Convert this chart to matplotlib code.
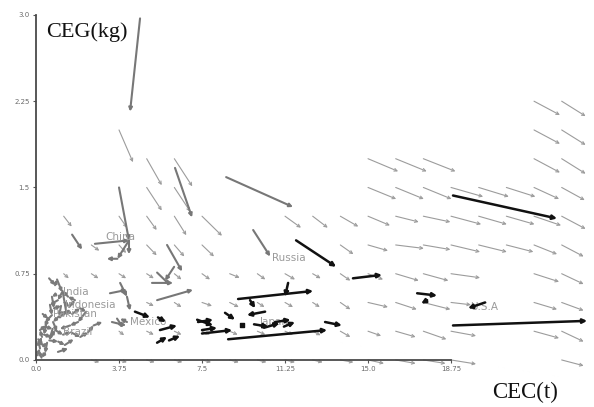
import matplotlib
matplotlib.use("Agg")
import matplotlib.pyplot as plt

# ---- background vector field (grid tails and components) ----
field_x = [22.5, 23.75,
           3.75, 22.5, 23.75,
           5.0, 6.25, 15.0, 16.25, 17.5, 22.5, 23.75,
           5.0, 6.25, 15.0, 16.25, 17.5, 18.75, 20.0, 21.25, 22.5, 23.75,
           1.25, 3.75, 5.0, 6.25, 7.5, 11.25, 12.5, 13.75, 15.0, 16.25, 17.5, 18.75, 20.0, 21.25, 22.5, 23.75,
           2.5, 3.75, 5.0, 6.25, 7.5, 13.75, 15.0, 16.25, 17.5, 18.75, 20.0, 21.25, 22.5, 23.75,
           1.25, 2.5, 3.75, 5.0, 6.25, 7.5, 8.75, 10.0, 11.25, 12.5, 13.75, 15.0, 16.25, 17.5, 18.75, 22.5, 23.75,
           1.25, 5.0, 6.25, 7.5, 8.75, 10.0, 11.25, 12.5, 13.75, 15.0, 16.25, 17.5, 18.75, 22.5, 23.75,
           3.75, 5.0, 6.25, 7.5, 8.75, 10.0, 11.25, 12.5, 13.75, 15.0, 16.25, 17.5, 18.75, 22.5, 23.75,
           2.5, 3.75, 5.0, 6.25, 7.5, 8.75, 10.0, 11.25, 12.5, 13.75, 15.0, 16.25, 17.5, 18.75, 23.75]
field_y = ([2.25] * 2 + [2.0] * 3 + [1.75] * 7 + [1.5] * 10 + [1.25] * 16 + [1.0] * 14
           + [0.75] * 17 + [0.5] * 15 + [0.25] * 15 + [0.0] * 15)
field_u = [1.17, 1.08,
           0.63, 1.17, 1.08,
           0.68, 0.81, 1.36, 1.40, 1.45, 1.17, 1.08,
           0.68, 0.72, 1.27, 1.27, 1.27, 1.45, 1.36, 1.31, 1.13, 1.04,
           0.36, 0.36, 0.45, 0.54, 0.90, 0.72, 0.68, 0.81, 0.99, 1.04, 1.22, 1.36, 1.27, 1.27, 1.22, 1.08,
           0.36, 0.32, 0.45, 0.45, 0.54, 0.59, 0.90, 1.27, 1.22, 1.31, 1.27, 1.22, 1.04, 0.99,
           0.23, 0.32, 0.32, 0.32, 0.32, 0.36, 0.45, 0.36, 0.45, 0.36, 0.45, 0.68, 1.04, 1.13, 1.31, 1.13, 0.99,
           0.23, 0.32, 0.32, 0.45, 0.41, 0.32, 0.36, 0.32, 0.45, 0.90, 0.95, 1.22, 0.90, 1.04, 0.99,
           0.23, 0.32, 0.32, 0.36, 0.36, 0.36, 0.36, 0.36, 0.45, 0.59, 0.90, 1.04, 1.13, 1.13, 0.99,
           0.36, 0.36, 0.36, 0.36, 0.41, 0.41, 0.41, 0.45, 0.45, 0.59, 0.72, 0.90, 1.00, 1.13, 0.99]
field_v = [-0.12, -0.13,
           -0.28, -0.12, -0.13,
           -0.23, -0.24, -0.11, -0.11, -0.11, -0.12, -0.13,
           -0.20, -0.21, -0.10, -0.10, -0.10, -0.08, -0.08, -0.08, -0.10, -0.11,
           -0.09, -0.10, -0.12, -0.165, -0.17, -0.10, -0.10, -0.09, -0.08, -0.05, -0.05, -0.07, -0.07, -0.07, -0.08, -0.11,
           -0.05, -0.07, -0.09, -0.10, -0.10, -0.08, -0.05, -0.03, -0.04, -0.06, -0.06, -0.06, -0.08, -0.10,
           -0.04, -0.04, -0.04, -0.04, -0.05, -0.05, -0.035, -0.05, -0.05, -0.04, -0.06, -0.05, -0.06, -0.06, -0.035, -0.07, -0.09,
           -0.03, -0.03, -0.04, -0.03, -0.04, -0.04, -0.04, -0.04, -0.06, -0.04, -0.06, -0.06, -0.02, -0.06, -0.07,
           -0.035, -0.03, -0.03, -0.03, -0.03, -0.03, -0.03, -0.035, -0.05, -0.04, -0.05, -0.07, -0.04, -0.06, -0.09,
           -0.02, -0.02, -0.02, -0.02, -0.02, -0.02, -0.02, -0.02, -0.02, -0.02, -0.03, -0.03, -0.03, -0.035, -0.05]

# ---- developing-country moves (start -> end) ----
gray_x0 = [4.70, 8.59, 6.28, 3.75, 2.66, 4.20, 3.68, 4.20, 9.81, 5.92, 1.63,
           5.24, 5.47, 6.24, 5.47, 3.34, 3.80, 4.11, 3.43, 3.66, 4.11, 0.99]
gray_y0 = [2.97, 1.59, 1.67, 1.50, 1.01, 1.04, 0.88, 1.04, 1.13, 1.00, 1.09,
           0.67, 0.76, 0.81, 0.52, 0.58, 0.67, 0.55, 0.33, 0.36, 0.33, 0.07]
gray_x1 = [4.25, 11.61, 7.05, 4.20, 4.20, 3.68, 3.20, 4.20, 10.58, 6.60, 2.08,
           6.19, 6.06, 5.83, 7.09, 4.11, 4.11, 4.25, 4.07, 3.93, 3.80, 1.45]
gray_y1 = [2.16, 1.33, 1.24, 1.04, 1.04, 0.88, 0.88, 0.92, 0.90, 0.77, 0.96,
           0.67, 0.65, 0.69, 0.61, 0.61, 0.55, 0.43, 0.30, 0.28, 0.36, 0.10]

# multi-year paths of the crowded low-emission group
path_india_x = [0.59, 0.86, 0.95, 1.18, 0.99, 0.63, 0.72, 0.41]
path_india_y = [0.71, 0.65, 0.70, 0.59, 0.52, 0.48, 0.39, 0.33]
path_indo_x = [1.08, 1.36, 1.63, 1.99, 2.26, 1.90, 1.54, 1.08]
path_indo_y = [0.37, 0.43, 0.40, 0.45, 0.42, 0.33, 0.30, 0.27]
path_pak_x = [0.90, 0.72, 0.81, 1.13, 1.04, 0.77, 0.95]
path_pak_y = [0.57, 0.55, 0.45, 0.47, 0.38, 0.33, 0.25]
path_low_x = [0.09, 0.27, 0.18, 0.45, 0.36, 0.68, 0.86, 1.22, 1.58, 2.00, 2.35, 2.60, 3.00]
path_low_y = [0.13, 0.20, 0.26, 0.30, 0.22, 0.20, 0.26, 0.22, 0.24, 0.20, 0.24, 0.30, 0.33]
path_base_x = [0.05, 0.18, 0.10, 0.32, 0.50, 0.41, 0.25, 0.12]
path_base_y = [0.04, 0.10, 0.18, 0.12, 0.15, 0.06, 0.02, 0.08]
path_mid_x = [1.30, 1.50, 1.76, 1.45, 1.20, 1.40]
path_mid_y = [0.50, 0.46, 0.52, 0.55, 0.60, 0.38]
path_edge_x = [0.30, 0.55, 0.40, 0.75, 0.60, 1.00, 1.30, 1.70]
path_edge_y = [0.40, 0.36, 0.29, 0.27, 0.17, 0.16, 0.13, 0.18]

# ---- developed-country moves (start -> end) ----
black_x0 = [18.84, 11.75, 14.32, 9.13, 11.39, 9.67, 8.68, 13.06, 18.84, 17.22, 17.67, 20.29,
            7.50, 4.47, 5.51, 5.60, 5.47, 6.01, 7.28, 7.32, 7.50, 8.54, 10.35,
            9.85, 10.30, 10.80, 11.20]
black_y0 = [1.43, 1.04, 0.71, 0.53, 0.67, 0.52, 0.18, 0.33, 0.30, 0.58, 0.52, 0.50,
            0.23, 0.42, 0.37, 0.26, 0.15, 0.17, 0.35, 0.33, 0.26, 0.41, 0.42,
            0.31, 0.28, 0.33, 0.29]
black_x1 = [23.54, 13.56, 15.63, 12.52, 11.25, 9.90, 13.15, 13.82, 24.90, 18.12, 17.40, 19.52,
            8.86, 5.15, 5.87, 6.37, 5.92, 6.51, 8.00, 8.00, 8.18, 8.99, 9.53,
            10.50, 11.00, 11.50, 11.70]
black_y1 = [1.23, 0.81, 0.74, 0.60, 0.55, 0.45, 0.26, 0.30, 0.34, 0.56, 0.49, 0.45,
            0.26, 0.37, 0.33, 0.30, 0.20, 0.21, 0.30, 0.35, 0.28, 0.35, 0.39,
            0.29, 0.32, 0.35, 0.33]
still_x = [9.31]
still_y = [0.30]

# ---- country names ----
names = ["China", "Russia", "India", "Indonesia", "Pakistan", "Mexico", "Brazil", "Japan", "U.S.A"]
name_x = [3.12, 10.66, 1.22, 1.31, 0.77, 4.25, 1.20, 10.10, 19.60]
name_y = [1.07, 0.89, 0.59, 0.48, 0.40, 0.33, 0.24, 0.33, 0.46]

x_ticks = [0.0, 3.75, 7.5, 11.25, 15.0, 18.75]
x_tick_labels = ["0.0", "3.75", "7.5", "11.25", "15.0", "18.75"]
y_ticks = [0.0, 0.75, 1.5, 2.25, 3.0]
y_tick_labels = ["0.0", "0.75", "1.5", "2.25", "3.0"]

fig = plt.figure(figsize=(5.94, 4.07), dpi=100)
ax = fig.add_axes([0, 0, 1, 1])
ax.set_xlim(-1.627, 25.21)
ax.set_ylim(-0.409, 3.130)
ax.patch.set_alpha(0)

for s in ("top", "right"):
    ax.spines[s].set_visible(False)
ax.spines["left"].set_position(("data", 0))
ax.spines["bottom"].set_position(("data", 0))
ax.spines["left"].set_bounds(0, 3.0)
ax.spines["bottom"].set_bounds(0, 18.75)
for s in ("left", "bottom"):
    ax.spines[s].set_color("#4a4a4a")
    ax.spines[s].set_linewidth(1.3)
ax.set_xticks(x_ticks, x_tick_labels)
ax.set_yticks(y_ticks, y_tick_labels)
ax.tick_params(axis="both", direction="out", length=2.5, width=0.8, color="#555555",
               labelsize=5, labelcolor="#6a6a6a", pad=2)


def arrow(x0, y0, x1, y1, color, lw, style, scale, z):
    ax.annotate("", xy=(x1, y1), xytext=(x0, y0), annotation_clip=False,
                arrowprops=dict(arrowstyle=style, color=color, lw=lw,
                                shrinkA=0, shrinkB=0, mutation_scale=scale),
                zorder=z)


# vector field
for x, y, u, v in zip(field_x, field_y, field_u, field_v):
    arrow(x, y, x + u, y + v, "#9c9c9c", 0.8, "->", 5, 1)

# developing countries
for x0, y0, x1, y1 in zip(gray_x0, gray_y0, gray_x1, gray_y1):
    arrow(x0, y0, x1, y1, "#777777", 1.5, "-|>", 5, 2)
for px, py in [(path_india_x, path_india_y), (path_indo_x, path_indo_y),
               (path_pak_x, path_pak_y), (path_low_x, path_low_y),
               (path_base_x, path_base_y), (path_mid_x, path_mid_y),
               (path_edge_x, path_edge_y)]:
    for i in range(len(px) - 1):
        arrow(px[i], py[i], px[i + 1], py[i + 1], "#7a7a7a", 1.5, "-|>", 4, 2)

# developed countries
for x0, y0, x1, y1 in zip(black_x0, black_y0, black_x1, black_y1):
    arrow(x0, y0, x1, y1, "#111111", 1.8, "-|>", 6, 3)
ax.scatter(still_x, still_y, marker="s", s=9, color="#111111", zorder=3)

for n, x, y in zip(names, name_x, name_y):
    ax.text(x, y, n, fontsize=7.5, color="#9a9a9a", va="center", ha="left", zorder=2)

ax.text(0.45, 2.85, "CEG(kg)", fontsize=16, family="Liberation Serif", color="#111111",
        va="center", ha="left")
ax.text(20.6, -0.28, "CEC(t)", fontsize=16.5, family="Liberation Serif", color="#111111",
        va="center", ha="left")

fig.savefig("out.png", dpi=100)
